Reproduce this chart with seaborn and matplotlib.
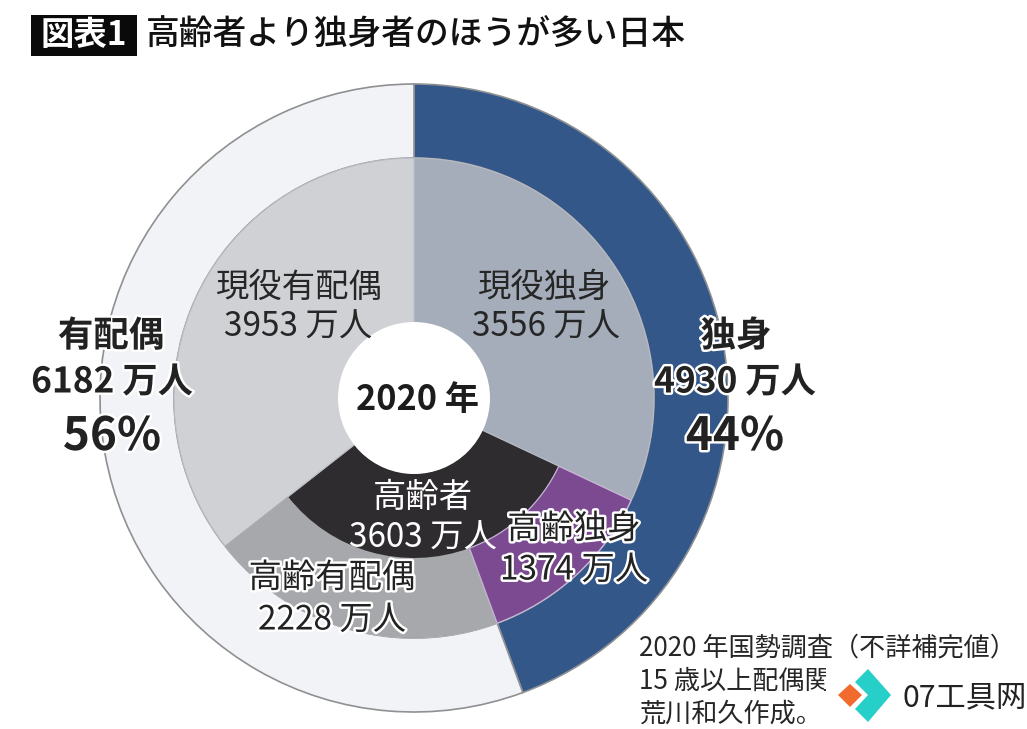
#!/usr/bin/env python3
"""Nested donut of Japan's population by marital status and age, 2020."""

import matplotlib
matplotlib.use("Agg")
import matplotlib.pyplot as plt
import matplotlib.patheffects as pe
from matplotlib.patches import Polygon, Rectangle
import seaborn as sns

# outer ring
marital_names = ["独身", "有配偶"]
marital_values = [4930, 6182]
marital_pct = [44, 56]

# middle ring
split_names = ["現役独身", "高齢独身", "高齢有配偶", "現役有配偶"]
split_values = [3556, 1374, 2228, 3953]

# inner ring
age_names = ["現役独身", "高齢者", "現役有配偶"]
age_values = [3556, 3603, 3953]

year = 2020

sns.set_theme(style="white")
plt.rcParams["font.family"] = ["Noto Sans CJK JP", "DejaVu Sans"]

W, H = 1027, 729
CX, CY = 414, 398
R_OUTER, R_MID, R_INNER, R_HOLE = 314, 240, 160, 75

NAVY = "#34578a"
PALE = "#f2f3f7"
LIGHT = "#cfd1d5"
BLUEGRAY = "#a4adb9"
BLACK = "#2e2c2f"
PURPLE = "#7b4a90"
GRAY = "#a7a8ab"
SEAM = "#b9bcc4"

fig = plt.figure(figsize=(W / 100, H / 100), dpi=100)
ax = fig.add_axes([0, 0, 1, 1])


def ring(values, colors, radius, inner, edge="none", lw=0):
    wedges, _ = ax.pie(
        values, colors=colors, radius=radius, center=(CX, H - CY),
        startangle=90, counterclock=False, frame=True,
        wedgeprops=dict(width=radius - inner, edgecolor=edge, linewidth=lw),
    )
    return wedges


# outer ring, then one wide base ring, then the elderly split on top of it
ring(marital_values, [NAVY, PALE], R_OUTER, R_MID, edge="#8f9092", lw=1.2)
ring(age_values, [BLUEGRAY, BLACK, LIGHT], R_MID, R_HOLE, edge=SEAM, lw=0.8)
split_wedges = ring(split_values, ["none", PURPLE, GRAY, "none"], R_MID, R_INNER)
split_wedges[1].set_edgecolor("#c8b6d6")
split_wedges[1].set_linewidth(0.9)
split_wedges[1].set_zorder(3)
ring([1], ["white"], R_HOLE + 1, 0)

ax.set_xlim(0, W)
ax.set_ylim(0, H)
ax.set_aspect("equal")
ax.axis("off")


def label(x, y, s, size, color="#222222", weight="normal", halo=None, ha="center", **kw):
    # the CJK font sits a little high with va=center
    t = ax.text(x, H - y - 2, s, fontsize=size, color=color, fontweight=weight,
                ha=ha, va="center", **kw)
    if halo:
        t.set_path_effects([pe.withStroke(linewidth=3.5, foreground=halo)])
    return t


def man(v):
    return f"{v} 万人"


# title
ax.add_patch(Rectangle((31, H - 56), 106, 41, facecolor="#0a0a0a", edgecolor="none"))
label(84, 33, "図表1", 24, color="white", weight="bold")
label(146, 33, "高齢者より独身者のほうが多い日本", 24.3, color="#111111", weight="medium", ha="left")

# centre
label(417, 397, f"{year} 年", 24.7, weight="bold", color="#1c1c1c")

# outer ring labels
label(736, 334, marital_names[0], 25.5, weight="bold", halo="white")
label(735, 380, man(marital_values[0]), 25.4, weight="bold", halo="white")
label(735, 435, f"{marital_pct[0]}%", 33, weight="bold", halo="white")
label(111, 334, marital_names[1], 25.5, weight="bold", halo="white")
label(112, 380, man(marital_values[1]), 25.4, weight="bold", halo="white")
label(112, 435, f"{marital_pct[1]}%", 33, weight="bold", halo="white")

# ring labels
label(545, 285, split_names[0], 24, color="#262626")
label(546, 325, man(split_values[0]), 24, color="#262626")
label(299, 285, split_names[3], 24, color="#262626")
label(298, 325, man(split_values[3]), 24, color="#262626")
label(423, 496, age_names[1], 24, color="white")
label(423, 536, man(age_values[1]), 24, color="white")
label(574, 527, split_names[1], 24, color="#222222", halo="white")
label(574, 568, man(split_values[1]), 24, color="#222222", halo="white")
label(332, 576, split_names[2], 24, color="#222222", halo="white")
label(332, 618, man(split_values[2]), 24, color="#222222", halo="white")

# source note
label(639, 646, f"{year} 年国勢調査（不詳補完値）", 18.8, ha="left", color="#262626")
label(639, 679, "15 歳以上配偶関係", 18.8, ha="left", color="#262626")
label(639, 712, "荒川和久作成。", 18.8, ha="left", color="#262626")

# watermark logo over the note
ax.add_patch(Rectangle((826, H - 729), 201, 67, facecolor="white", edgecolor="none", zorder=5))
ax.add_patch(Polygon([(838, H - 695), (850, H - 684), (862, H - 695), (850, H - 707)],
                     closed=True, facecolor="#f26b2e", edgecolor="none", zorder=6))
ax.add_patch(Polygon([(855, H - 682), (868, H - 669), (891, H - 695), (868, H - 722),
                      (855, H - 709), (868, H - 695)],
                     closed=True, facecolor="#27cfc9", edgecolor="none", zorder=6))
label(902, 696, "07工具网", 21.8, ha="left", color="#222222", zorder=6)

fig.savefig("out.png", dpi=100)
